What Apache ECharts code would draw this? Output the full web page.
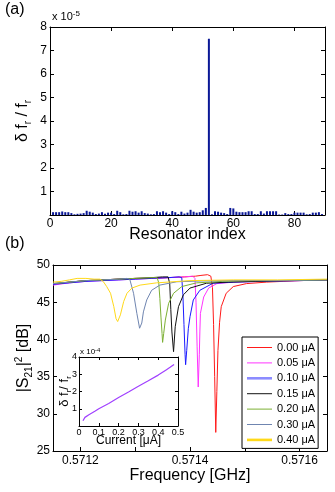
<!DOCTYPE html>
<html>
<head>
<meta charset="utf-8">
<script src="https://cdn.jsdelivr.net/npm/echarts@6/dist/echarts.min.js"></script>
<style>
  html, body { margin: 0; background: #fff; }
  #chart { width: 335px; height: 492px; }
</style>
</head>
<body>
<div id="chart"></div>
<script>
// (a) relative shift of each resonator, in units of 1e-5, resonators 1..89
const resonatorShift = [
  0.12, 0.12, 0.12, 0.15, 0.12, 0.12, 0.08, 0.03, 0.05, 0.06,
  0.08, 0.18, 0.14, 0.10, 0.04, 0.06, 0.12, 0.05, 0.10, 0.10,
  0.04, 0.18, 0.12, 0.03, 0.04, 0.18, 0.14, 0.16, 0.10, 0.16,
  0.08, 0.06, 0.03, 0.04, 0.16, 0.12, 0.16, 0.10, 0.04, 0.16,
  0.12, 0.04, 0.14, 0.06, 0.10, 0.22, 0.14, 0.10, 0.12, 0.20,
  0.30, 7.50, 0.03, 0.16, 0.14, 0.10, 0.08, 0.04, 0.30, 0.28,
  0.14, 0.12, 0.12, 0.12, 0.16, 0.16, 0.04, 0.04, 0.16, 0.06,
  0.16, 0.16, 0.16, 0.16, 0.02, 0.02, 0.08, 0.04, 0.04, 0.10,
  0.10, 0.10, 0.10, 0.03, 0.04, 0.10, 0.10, 0.12, 0.04
];

// (b) transmission traces [frequency GHz, |S21|^2 dB]
const currentLabels = ['0.00 μA', '0.05 μA', '0.10 μA', '0.15 μA', '0.20 μA', '0.30 μA', '0.40 μA'];

const trace000 = [
  [0.57115, 47.4], [0.57118, 47.7], [0.57121, 47.9], [0.57124, 48.0], [0.57127, 48.1],
  [0.5713, 48.2], [0.57133, 48.2], [0.57136, 48.3], [0.57139, 48.4], [0.57141, 48.5],
  [0.57142, 48.6], [0.571432, 48.7], [0.571438, 48.5], [0.571441, 47.0], [0.571443, 42.0],
  [0.571445, 35.0], [0.571447, 27.5], [0.571449, 33.0], [0.571451, 38.5], [0.571454, 42.3],
  [0.571457, 44.4], [0.571466, 46.2], [0.571479, 47.1], [0.571503, 47.5], [0.57154, 47.7],
  [0.57157, 47.8], [0.5716, 47.9], [0.57165, 48.0]
];
const trace005 = [
  [0.57115, 47.3], [0.57118, 47.6], [0.57121, 47.8], [0.57124, 47.9], [0.57127, 48.0],
  [0.5713, 48.1], [0.57133, 48.2], [0.57136, 48.3], [0.57139, 48.4], [0.571405, 48.5],
  [0.571409, 48.2], [0.571411, 45.0], [0.571413, 39.0], [0.571415, 33.6], [0.571417, 38.0],
  [0.571418, 41.0], [0.571419, 43.5], [0.571425, 45.7], [0.571434, 46.9], [0.571449, 47.5],
  [0.57148, 47.7], [0.57153, 47.8], [0.5716, 47.9], [0.57165, 48.0]
];
const trace010 = [
  [0.57115, 47.4], [0.57118, 47.6], [0.57121, 47.8], [0.57124, 47.9], [0.57127, 48.0],
  [0.5713, 48.1], [0.57133, 48.2], [0.57136, 48.3], [0.57138, 48.4], [0.571385, 48.3],
  [0.571387, 46.0], [0.571389, 42.0], [0.571391, 38.0], [0.571392, 36.6], [0.571394, 38.5],
  [0.571397, 41.5], [0.5714, 43.05], [0.571406, 45.3], [0.571418, 46.6], [0.571442, 47.55],
  [0.57148, 47.7], [0.57153, 47.8], [0.5716, 47.9], [0.57165, 48.0]
];
const trace015 = [
  [0.57115, 47.5], [0.57118, 47.7], [0.57121, 47.9], [0.57124, 48.0], [0.57127, 48.1],
  [0.5713, 48.2], [0.57133, 48.3], [0.57135, 48.4], [0.57136, 48.4], [0.571363, 47.5],
  [0.571365, 44.0], [0.571367, 41.0], [0.57137, 38.35], [0.571373, 41.7], [0.571379, 44.4],
  [0.571388, 46.0], [0.5714, 46.9], [0.57143, 47.55], [0.57147, 47.7], [0.57152, 47.8],
  [0.57158, 47.9], [0.57165, 48.0]
];
const trace020 = [
  [0.57115, 47.5], [0.57118, 47.7], [0.57121, 47.9], [0.57124, 48.0], [0.57127, 48.1],
  [0.5713, 48.2], [0.57133, 48.3], [0.57134, 48.3], [0.571343, 47.6], [0.571345, 45.5],
  [0.571347, 43.0], [0.571349, 40.8], [0.57135, 39.6], [0.571352, 40.8], [0.571355, 42.6],
  [0.571361, 44.85], [0.57137, 46.2], [0.571385, 47.1], [0.571412, 47.6], [0.57146, 47.8],
  [0.57152, 47.9], [0.57158, 47.9], [0.57165, 48.0]
];
const trace030 = [
  [0.57115, 47.5], [0.57118, 47.7], [0.57121, 47.9], [0.57124, 48.0], [0.57127, 48.1],
  [0.571285, 48.2], [0.57129, 48.1], [0.571297, 46.2], [0.571303, 43.5], [0.571308, 41.5],
  [0.571309, 41.3], [0.571312, 42.2], [0.571315, 43.7], [0.571321, 45.3], [0.57133, 46.6],
  [0.571345, 47.3], [0.571376, 47.75], [0.57142, 47.85], [0.57148, 47.9], [0.57155, 47.9],
  [0.57165, 48.0]
];
const trace040 = [
  [0.57115, 47.7], [0.571165, 47.8], [0.57118, 48.0], [0.571194, 48.2], [0.57121, 48.2],
  [0.571225, 48.1], [0.571236, 48.1], [0.571242, 47.75], [0.571248, 47.1], [0.571255, 46.2],
  [0.571261, 44.4], [0.571265, 42.8], [0.571268, 42.4], [0.571273, 43.3], [0.571279, 45.1],
  [0.571285, 46.2], [0.571294, 46.9], [0.571309, 47.3], [0.571339, 47.6], [0.5714, 47.9],
  [0.57148, 48.0], [0.57156, 48.0], [0.57165, 48.1]
];
const traces = [trace000, trace005, trace010, trace015, trace020, trace030, trace040];

// inset: shift (units of 1e-4) vs current (μA)
const insetCurrent = [0.02, 0.03, 0.05, 0.08, 0.10, 0.15, 0.20, 0.25, 0.30, 0.35, 0.40, 0.44, 0.46, 0.48];
const insetShift = [0.30, 0.50, 0.65, 0.85, 1.00, 1.30, 1.65, 1.97, 2.30, 2.62, 2.95, 3.25, 3.40, 3.57];

const freqTicks = [0.5712, 0.5713, 0.5714, 0.5715, 0.5716];
const freqLabels = [0.5712, 0.5714, 0.5716];

const FONT = 'Liberation Sans';
const lineColors = ['#ff1a1a', '#ff33ff', '#1a1aff', '#111111', '#7cb034', '#6f85b0', '#ffd919'];
const thinIcon = 'path://M0,0H25V1H0Z';
const thickIcon = 'path://M0,0H25V2.6H0Z';

const chart = echarts.init(document.getElementById('chart'));

function axisCommon(o) {
  return Object.assign({
    type: 'value',
    axisLine: { show: true, onZero: false, lineStyle: { color: '#000', width: 1 } },
    axisTick: { show: true, inside: true, length: 4, lineStyle: { color: '#000' } },
    splitLine: { show: false },
    axisLabel: { color: '#000', fontFamily: FONT, fontSize: 12 }
  }, o);
}
// mirrored axis for the box (ticks only)
function mirror(o) {
  const a = axisCommon(o);
  a.axisLabel = { show: false };
  return a;
}

const subRich = (size) => ({
  a: { fontFamily: FONT, fontSize: size, color: '#000', lineHeight: size + 4 },
  s: { fontFamily: FONT, fontSize: Math.round(size * 0.62), color: '#000', verticalAlign: 'bottom', lineHeight: size * 0.6 },
  p: { fontFamily: FONT, fontSize: Math.round(size * 0.62), color: '#000', verticalAlign: 'top', lineHeight: size * 0.6 }
});

const legendData = currentLabels.map((name, i) => {
  const thick = i === 2 || i === 6;
  return {
    name: name,
    icon: thick ? thickIcon : thinIcon,
    itemStyle: { color: i === 2 ? '#8c8cff' : lineColors[i] }
  };
});

const option = {
  animation: false,
  backgroundColor: '#fff',
  grid: [
    { left: 50, top: 27, width: 275, height: 188, show: false },
    { left: 53, top: 265, width: 274, height: 186, show: false },
    { left: 79, top: 357, width: 99, height: 69, show: true, backgroundColor: '#fff', borderWidth: 0 }
  ],
  xAxis: [
    axisCommon({
      gridIndex: 0, min: 0, max: 90, interval: 20,
      axisLabel: { color: '#000', fontFamily: FONT, fontSize: 12, margin: 3, showMaxLabel: false },
      name: 'Resonator index', nameLocation: 'middle', nameGap: 12, nameMoveOverlap: false,
      nameTextStyle: { fontFamily: FONT, fontSize: 16, color: '#000' }
    }),
    mirror({ gridIndex: 0, min: 0, max: 90, interval: 20, position: 'top' }),
    axisCommon({
      gridIndex: 1, min: 0.57115, max: 0.57165,
      axisTick: { show: true, inside: true, length: 4, lineStyle: { color: '#000' }, customValues: freqTicks },
      axisLabel: {
        color: '#000', fontFamily: FONT, fontSize: 12, margin: 4,
        customValues: freqLabels, formatter: v => v.toFixed(4)
      },
      name: 'Frequency [GHz]', nameLocation: 'middle', nameGap: 17, nameMoveOverlap: false,
      nameTextStyle: { fontFamily: FONT, fontSize: 16, color: '#000' }
    }),
    mirror({
      gridIndex: 1, min: 0.57115, max: 0.57165, position: 'top',
      axisTick: { show: true, inside: true, length: 4, lineStyle: { color: '#000' }, customValues: freqTicks }
    }),
    axisCommon({
      gridIndex: 2, min: 0, max: 0.5, interval: 0.1,
      axisTick: { show: true, inside: true, length: 3, lineStyle: { color: '#000' } },
      axisLabel: { color: '#000', fontFamily: FONT, fontSize: 9, margin: 2, formatter: v => (v === 0 ? '0' : v.toFixed(1)) },
      name: 'Current [μA]', nameLocation: 'middle', nameGap: 9, nameMoveOverlap: false,
      nameTextStyle: { fontFamily: FONT, fontSize: 12, color: '#000' }
    }),
    mirror({ gridIndex: 2, min: 0, max: 0.5, interval: 0.1, position: 'top',
      axisTick: { show: true, inside: true, length: 3, lineStyle: { color: '#000' } } })
  ],
  yAxis: [
    axisCommon({
      gridIndex: 0, min: 0, max: 8, interval: 1,
      axisLabel: { color: '#000', fontFamily: FONT, fontSize: 12, margin: 3, showMinLabel: false },
      name: '{a|δ f}{s|r}{a| / f}{s|r}', nameLocation: 'middle', nameGap: 17, nameMoveOverlap: false,
      nameTextStyle: { rich: subRich(16) }
    }),
    mirror({ gridIndex: 0, min: 0, max: 8, interval: 1, position: 'right' }),
    axisCommon({
      gridIndex: 1, min: 25, max: 50, interval: 5,
      axisLabel: { color: '#000', fontFamily: FONT, fontSize: 12, margin: 3 },
      name: '{a||S}{s|21}{a||}{p|2}{a| [dB]}', nameLocation: 'middle', nameGap: 19, nameMoveOverlap: false,
      nameTextStyle: { rich: subRich(16) }
    }),
    mirror({ gridIndex: 1, min: 25, max: 50, interval: 5, position: 'right' }),
    axisCommon({
      gridIndex: 2, min: 0, max: 4, interval: 1,
      axisTick: { show: true, inside: true, length: 3, lineStyle: { color: '#000' } },
      axisLabel: { color: '#000', fontFamily: FONT, fontSize: 9, margin: 2, showMinLabel: false },
      name: '{a|δ f}{s|r}{a|/ f}{s|r}', nameLocation: 'middle', nameGap: 6, nameMoveOverlap: false,
      nameTextStyle: { rich: subRich(13) }
    }),
    mirror({ gridIndex: 2, min: 0, max: 4, interval: 1, position: 'right',
      axisTick: { show: true, inside: true, length: 3, lineStyle: { color: '#000' } } })
  ],
  legend: {
    orient: 'vertical', left: 242, top: 337,
    padding: [5, 3, 3, 5], itemWidth: 25, itemHeight: 10, itemGap: 4.4,
    backgroundColor: '#fff', borderColor: '#000', borderWidth: 1, borderRadius: 0,
    textStyle: { fontFamily: FONT, fontSize: 11, color: '#000' },
    data: legendData
  },
  graphic: [
    { type: 'text', left: 5, top: 2, style: { text: '(a)', fontFamily: FONT, fontSize: 16, fill: '#000' } },
    { type: 'text', left: 5, top: 236, style: { text: '(b)', fontFamily: FONT, fontSize: 16, fill: '#000' } },
    { type: 'text', left: 52, top: 10, style: {
      text: '{a|x 10}{b|-5}',
      rich: { a: { fontFamily: FONT, fontSize: 11, fill: '#000', lineHeight: 14 },
              b: { fontFamily: FONT, fontSize: 8, fill: '#000', verticalAlign: 'top', lineHeight: 8 } } } },
    { type: 'text', left: 80, top: 347, style: {
      text: '{a|x 10}{b|-4}',
      rich: { a: { fontFamily: FONT, fontSize: 8, fill: '#000', lineHeight: 10 },
              b: { fontFamily: FONT, fontSize: 6, fill: '#000', verticalAlign: 'top', lineHeight: 6 } } } }
  ],
  series: [
    {
      type: 'bar', xAxisIndex: 0, yAxisIndex: 0, barWidth: 2,
      itemStyle: { color: '#0a1896' },
      data: resonatorShift.map((v, i) => [i + 1, v])
    },
    ...traces.map((t, i) => ({
      type: 'line', name: currentLabels[i], xAxisIndex: 2, yAxisIndex: 2,
      symbol: 'none', smooth: false,
      lineStyle: { color: lineColors[i], width: 1 },
      itemStyle: { color: lineColors[i] },
      data: t
    })),
    {
      type: 'line', xAxisIndex: 4, yAxisIndex: 4, symbol: 'none',
      lineStyle: { color: '#a040ff', width: 1.2 },
      data: insetCurrent.map((c, i) => [c, insetShift[i]])
    }
  ]
};

chart.setOption(option);
</script>
</body>
</html>
